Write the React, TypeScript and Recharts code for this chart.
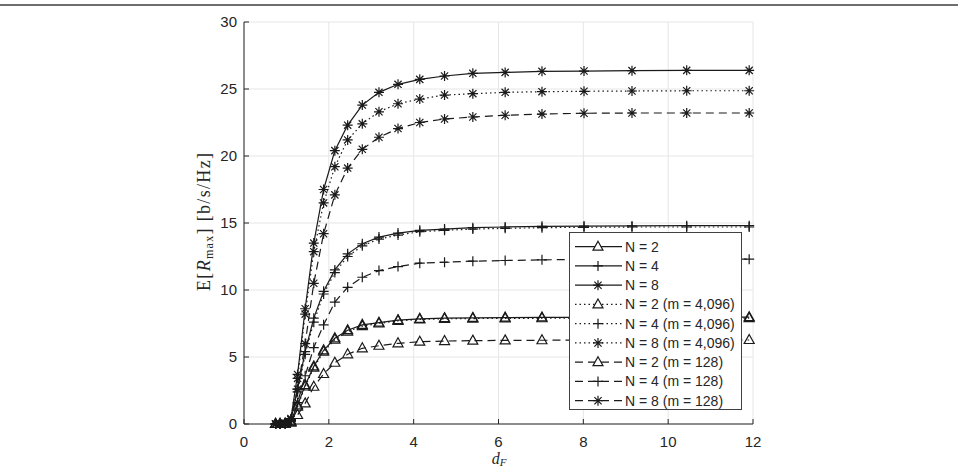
import { CartesianGrid, Legend, Line, LineChart, XAxis, YAxis } from 'recharts'

// sample points on the d_F axis (log spaced in the original figure)
const dF = [0.745, 0.85, 0.97, 1.107, 1.263, 1.442, 1.645, 1.877, 2.142, 2.444, 2.789, 3.182, 3.631, 4.144, 4.728, 5.395, 6.157, 7.025, 8.016, 9.147, 10.437, 11.91]

const n2 = [0, 0, 0.02, 0.2, 1.4, 2.9, 4.3, 5.5, 6.4, 7.0, 7.4, 7.56, 7.75, 7.85, 7.9, 7.92, 7.94, 7.95, 7.96, 7.97, 7.97, 7.97]
const n4 = [0, 0, 0.03, 0.3, 2.6, 5.4, 7.9, 9.9, 11.5, 12.7, 13.45, 13.95, 14.25, 14.45, 14.55, 14.65, 14.7, 14.75, 14.77, 14.78, 14.8, 14.8]
const n8 = [0, 0, 0.05, 0.4, 3.7, 8.6, 13.5, 17.5, 20.4, 22.3, 23.8, 24.75, 25.35, 25.72, 25.97, 26.17, 26.24, 26.32, 26.34, 26.37, 26.39, 26.39]
const n2m4096 = [0, 0, 0.02, 0.18, 1.3, 2.8, 4.2, 5.4, 6.3, 6.9, 7.3, 7.5, 7.7, 7.8, 7.85, 7.87, 7.88, 7.89, 7.9, 7.9, 7.9, 7.9]
const n4m4096 = [0, 0, 0.03, 0.25, 2.4, 5.2, 7.6, 9.7, 11.3, 12.5, 13.3, 13.8, 14.1, 14.35, 14.45, 14.55, 14.6, 14.65, 14.68, 14.7, 14.7, 14.7]
const n8m4096 = [0, 0, 0.05, 0.35, 3.4, 8.2, 12.86, 16.5, 19.2, 21.2, 22.4, 23.3, 23.9, 24.25, 24.55, 24.65, 24.75, 24.8, 24.83, 24.85, 24.87, 24.87]
const n2m128 = [0, 0, 0.01, 0.1, 0.67, 1.54, 2.78, 3.73, 4.57, 5.2, 5.65, 5.84, 6.02, 6.14, 6.19, 6.22, 6.24, 6.25, 6.26, 6.27, 6.27, 6.27]
const n4m128 = [0, 0, 0.02, 0.2, 1.6, 3.6, 5.7, 7.4, 9.1, 10.2, 10.95, 11.45, 11.75, 12.0, 12.07, 12.15, 12.2, 12.25, 12.28, 12.3, 12.3, 12.3]
const n8m128 = [0, 0, 0.04, 0.3, 2.6, 6.0, 10.5, 14.2, 17.1, 19.1, 20.5, 21.4, 22.05, 22.5, 22.76, 22.91, 23.04, 23.13, 23.19, 23.21, 23.21, 23.21]

const xTicks = [0, 2, 4, 6, 8, 10, 12]
const yTicks = [0, 5, 10, 15, 20, 25, 30]

type Marker = 'tri' | 'plus' | 'star'

const series: { key: string; name: string; values: number[]; marker: Marker; dash?: string }[] = [
  { key: 'n2', name: 'N = 2', values: n2, marker: 'tri' },
  { key: 'n4', name: 'N = 4', values: n4, marker: 'plus' },
  { key: 'n8', name: 'N = 8', values: n8, marker: 'star' },
  { key: 'n2m4096', name: 'N = 2 (m = 4,096)', values: n2m4096, marker: 'tri', dash: '1.5 3' },
  { key: 'n4m4096', name: 'N = 4 (m = 4,096)', values: n4m4096, marker: 'plus', dash: '1.5 3' },
  { key: 'n8m4096', name: 'N = 8 (m = 4,096)', values: n8m4096, marker: 'star', dash: '1.5 3' },
  { key: 'n2m128', name: 'N = 2 (m = 128)', values: n2m128, marker: 'tri', dash: '8 5' },
  { key: 'n4m128', name: 'N = 4 (m = 128)', values: n4m128, marker: 'plus', dash: '8 5' },
  { key: 'n8m128', name: 'N = 8 (m = 128)', values: n8m128, marker: 'star', dash: '8 5' },
]

const data = dF.map((x, i) => {
  const row: Record<string, number> = { x }
  series.forEach((s) => (row[s.key] = s.values[i]))
  return row
})

const INK = '#1a1a1a'
const AXIS = '#262626'
const FONT = '"Liberation Sans", Arial, sans-serif'
const SERIF = '"Liberation Serif", "Times New Roman", serif'

const markerPath = (m: Marker, cx: number, cy: number) => {
  if (m === 'tri') return `M${cx},${cy - 5.5}L${cx + 5},${cy + 3.5}L${cx - 5},${cy + 3.5}Z`
  if (m === 'plus') return `M${cx - 5},${cy}H${cx + 5}M${cx},${cy - 5}V${cy + 5}`
  return `M${cx - 5},${cy}H${cx + 5}M${cx},${cy - 5}V${cy + 5}M${cx - 3.6},${cy - 3.6}L${cx + 3.6},${cy + 3.6}M${cx - 3.6},${cy + 3.6}L${cx + 3.6},${cy - 3.6}`
}

const makeDot = (m: Marker) => (props: any) => {
  const { cx, cy, index } = props
  if (cx == null || cy == null) return <g key={index} />
  return <path key={index} d={markerPath(m, cx, cy)} fill="none" stroke={INK} strokeWidth={1.2} />
}

const LegendBox = () => (
  <svg width={174} height={179} style={{ display: 'block' }}>
    <rect x={0.5} y={0.5} width={172} height={177} fill="#fff" stroke="#404040" strokeWidth={1} />
    {series.map((s, i) => {
      const y = 14.7 + i * 19.25
      return (
        <g key={s.key}>
          <line x1={6} x2={53} y1={y} y2={y} stroke={INK} strokeWidth={1.2} strokeDasharray={s.dash} />
          <path d={markerPath(s.marker, 29, y)} fill="#fff" stroke={INK} strokeWidth={1.2} />
          <text x={56} y={y + 5} fontFamily={FONT} fontSize={14} fill={AXIS}>
            {s.name}
          </text>
        </g>
      )
    })}
  </svg>
)

const tickStyle = { fontFamily: FONT, fontSize: 15, fill: AXIS }

export default function App() {
  return (
    <div style={{ position: 'absolute', left: 0, top: 0, width: 958, height: 468, background: '#fff', overflow: 'hidden' }}>
      <div style={{ position: 'absolute', left: 0, top: 4, width: 958, height: 2, background: '#6e6e6e' }} />
      <LineChart width={958} height={468} data={data} margin={{ top: 22, right: 205, bottom: 0, left: 0 }}>
        <CartesianGrid stroke="#e6e6e6" strokeWidth={1} />
        <XAxis
          dataKey="x"
          type="number"
          domain={[0, 12]}
          ticks={xTicks}
          height={44}
          tickSize={-5}
          tickMargin={17}
          tick={tickStyle}
          stroke={AXIS}
          label={{
            content: () => (
              <text x={499} y={464} textAnchor="middle" fontFamily={SERIF} fontSize={16} fill={AXIS}>
                <tspan fontStyle="italic">d</tspan>
                <tspan fontStyle="italic" fontSize={11} dy={2}>F</tspan>
              </text>
            ),
          }}
        />
        <XAxis xAxisId="top" orientation="top" type="number" domain={[0, 12]} ticks={xTicks} height={0} tickSize={-5} tick={false} stroke={AXIS} />
        <YAxis
          type="number"
          domain={[0, 30]}
          ticks={yTicks}
          width={244}
          tickSize={-5}
          tickMargin={12}
          tick={tickStyle}
          stroke={AXIS}
          label={{
            content: () => (
              <text
                transform="translate(210,222) rotate(-90)"
                textAnchor="middle"
                textLength={138}
                lengthAdjust="spacing"
                fontFamily={SERIF}
                fontSize={18}
                fill={AXIS}
              >
                <tspan>E[</tspan>
                <tspan fontStyle="italic">R</tspan>
                <tspan fontSize={12} dy={3}>max</tspan>
                <tspan dy={-3}>] [b/s/Hz]</tspan>
              </text>
            ),
          }}
        />
        <YAxis yAxisId="right" orientation="right" type="number" domain={[0, 30]} ticks={yTicks} width={0} tickSize={-5} tick={false} stroke={AXIS} />
        {series.map((s) => (
          <Line
            key={s.key}
            dataKey={s.key}
            name={s.name}
            type="linear"
            stroke={INK}
            strokeWidth={1.2}
            strokeDasharray={s.dash}
            dot={makeDot(s.marker)}
            activeDot={false}
            isAnimationActive={false}
          />
        ))}
        <Legend
          layout="vertical"
          align="center"
          verticalAlign="middle"
          wrapperStyle={{ left: 569, top: 232, width: 174, height: 179 }}
          content={() => <LegendBox />}
        />
      </LineChart>
    </div>
  )
}
